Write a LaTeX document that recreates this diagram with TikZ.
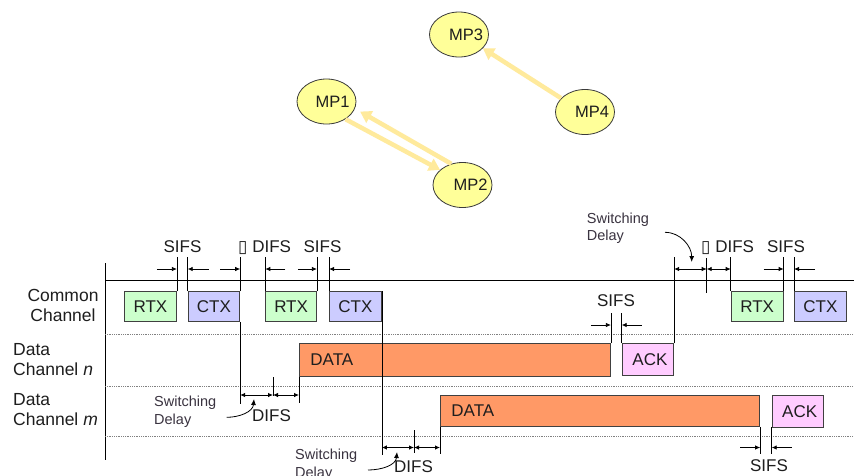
\documentclass[tikz,border=0pt]{standalone}
\usepackage{fontspec}
\setmainfont{Liberation Sans}
\newfontfamily\symfont{DejaVu Sans}
\usetikzlibrary{arrows.meta,shapes.geometric,calc}

\definecolor{mpfill}{HTML}{FFFF99}
\definecolor{mpline}{HTML}{3A3A3A}
\definecolor{linkc}{HTML}{FFEA9C}
\definecolor{rtxc}{HTML}{CCFFCC}
\definecolor{ctxc}{HTML}{CCCCFF}
\definecolor{datac}{HTML}{FF9966}
\definecolor{ackc}{HTML}{FFCCFF}
\definecolor{boxline}{HTML}{404040}
\definecolor{txt}{HTML}{1E1E1E}
\definecolor{softtxt}{HTML}{3A3340}

\begin{document}
\begin{tikzpicture}[x=1pt,y=-1pt,
  mp/.style={ellipse, draw=mpline, line width=0.8pt, fill=mpfill,
    minimum width=59pt, minimum height=45pt, inner sep=0pt},
  mptext/.style={font=\fontsize{16.5}{16.5}\selectfont, text=txt, inner sep=0pt},
  link/.style={draw=linkc, line width=4.5pt, -{Triangle[length=11pt,width=13pt]}},
  slot/.style={draw=boxline, line width=0.9pt, anchor=north west, inner sep=0pt,
    font=\fontsize{17}{17}\selectfont, text=txt},
  axis/.style={draw=black, line width=0.9pt},
  sep/.style={draw=gray, densely dotted, line width=0.8pt},
  ext/.style={draw=black, line width=0.8pt},
  gap/.style={line width=0.8pt, -{Latex[length=5pt,width=4.5pt]}},
  both/.style={line width=0.8pt, {Latex[length=5pt,width=4.5pt]}-{Latex[length=5pt,width=4.5pt]}},
  curv/.style={line width=0.8pt, -{Latex[length=6pt,width=5pt]}},
  lbl/.style={font=\fontsize{17}{17}\selectfont, text=txt, inner sep=0pt},
  chan/.style={font=\fontsize{17.5}{20}\selectfont, text=txt, inner sep=0pt},
  note/.style={font=\fontsize{14.5}{17.5}\selectfont, text=softtxt, inner sep=0pt, align=left}
]
\useasboundingbox (0,0) rectangle (854,475);
\fill[white] (0,0) rectangle (854,475);

% ---------------- mesh points ----------------
\node[mp] (mp3) at (459,34.5) {};
\node[mp] (mp1) at (326.5,101.5) {};
\node[mp] (mp2) at (462.5,185) {};
\node[mp] (mp4) at (585,112) {};
\node[mptext] at ([xshift=7pt]mp3.center) {MP3};
\node[mptext] at ([xshift=6pt]mp1.center) {MP1};
\node[mptext] at ([xshift=8pt]mp2.center) {MP2};
\node[mptext] at ([xshift=7pt]mp4.center) {MP4};

\draw[link] (mp4.150) -- (mp3.-30);
\draw[link] (mp1.-43) -- (mp2.146);
\draw[link, shorten >=6pt] (mp2.118) -- (mp1.-14);

% ---------------- channel frame ----------------
\draw[axis] (105,263) -- (105,460);
\draw[axis] (105,280) -- (854,280);
\draw[sep] (105,334) -- (854,334);
\draw[sep] (105,386) -- (854,386);
\draw[sep] (105,436) -- (854,436);

% (base anchor of a two-line node sits on its last line)
\node[chan, align=center, anchor=base] (lc) at (63,321.5) {Common\\Channel};
\node[chan, align=left, anchor=base west] (ln) at (13,375) {Data\\Channel \textit{n}};
\node[chan, align=left, anchor=base west] (lm) at (13,425) {Data\\Channel \textit{m}};

% ---------------- frames ----------------
\node[slot, fill=rtxc, minimum width=52pt, minimum height=30pt] (r1) at (124,291) {RTX};
\node[slot, fill=ctxc, minimum width=51.6pt, minimum height=30pt] (c1) at (187.7,291) {CTX};
\node[slot, fill=rtxc, minimum width=50.7pt, minimum height=30pt] (r2) at (265.3,291) {RTX};
\node[slot, fill=ctxc, minimum width=52pt, minimum height=30pt] (c2) at (329,291) {CTX};
\node[slot, fill=datac, minimum height=33pt, text width=289pt, inner xsep=11pt, align=left] (dn) at (299,343) {DATA};
\node[slot, fill=ackc, minimum width=51.6pt, minimum height=32pt] (an) at (621.7,343) {\hspace*{4pt}ACK};
\node[slot, fill=datac, minimum height=31pt, text width=297.3pt, inner xsep=11pt, align=left] (dm) at (440,395) {DATA};
\node[slot, fill=ackc, minimum width=51pt, minimum height=31.5pt] (am) at (771.7,395) {\hspace*{4pt}ACK};
\node[slot, fill=rtxc, minimum width=52pt, minimum height=30.5pt] (r3) at (730.7,290.5) {RTX};
\node[slot, fill=ctxc, minimum width=52pt, minimum height=30.5pt] (c3) at (794,290.5) {CTX};

% ---------------- boundary lines ----------------
\draw[ext] (r1.north east) -- ++(0,-34);
\draw[ext] (c1.north west) -- ++(0,-34);
\draw[ext] (c1.north east) -- ++(0,-34);
\draw[ext] (c1.south east) -- ++(0,82);
\draw[ext] (r2.north west) -- ++(0,-34);
\draw[ext] (r2.north east) -- ++(0,-34);
\draw[ext] (c2.north west) -- ++(0,-34);
\draw[ext] (c2.north east) -- (c2.south east) -- ++(0,133);
\draw[ext] (dn.south west) -- ++(0,26);
\draw[ext] (dn.north east) -- ++(0,-30);
\draw[ext] (an.north west) -- ++(0,-30);
\draw[ext] (an.north east) -- ++(0,-86);
\draw[ext] (r3.north west) -- ++(0,-33.5);
\draw[ext] (r3.north east) -- ++(0,-33.5);
\draw[ext] (c3.north west) -- ++(0,-33.5);
\draw[ext] (dm.south west) -- ++(0,27);
\draw[ext] (dm.south east) -- ++(0,27);
\draw[ext] (am.south west) -- ++(0,27);

% tick marks separating switching delay and DIFS
\coordinate (k1) at (273,377);
\coordinate (k2) at (414,430);
\coordinate (k3) at (706.7,258);
\draw[ext] (k1) -- ++(0,19);
\draw[ext] (k2) -- ++(0,23);
\draw[ext] (k3) -- ++(0,35);

% rows of the interval arrows
\coordinate (ya) at (0,269);
\coordinate (yb) at (0,325);
\coordinate (yd) at (0,395);
\coordinate (ye) at (0,447.5);

% ---------------- interval arrows ----------------
\draw[gap] ([xshift=-20pt]r1.north east |- ya) -- (r1.north east |- ya);
\draw[gap] ([xshift=21pt]c1.north west |- ya) -- (c1.north west |- ya);
\draw[gap] ([xshift=-20pt]c1.north east |- ya) -- (c1.north east |- ya);
\draw[gap] ([xshift=20pt]r2.north west |- ya) -- (r2.north west |- ya);
\draw[gap] ([xshift=-19pt]r2.north east |- ya) -- (r2.north east |- ya);
\draw[gap] ([xshift=21pt]c2.north west |- ya) -- (c2.north west |- ya);

\draw[gap] ([xshift=-20pt]dn.north east |- yb) -- (dn.north east |- yb);
\draw[gap] ([xshift=20pt]an.north west |- yb) -- (an.north west |- yb);

\draw[both] (an.north east |- ya) -- (k3 |- ya);
\draw[both] (k3 |- ya) -- (r3.north west |- ya);
\draw[gap] ([xshift=-20pt]r3.north east |- ya) -- (r3.north east |- ya);
\draw[gap] ([xshift=21pt]c3.north west |- ya) -- (c3.north west |- ya);

\draw[both] (c1.south east |- yd) -- (k1 |- yd);
\draw[both] (k1 |- yd) -- (dn.south west |- yd);
\draw[both] (c2.south east |- ye) -- (k2 |- ye);
\draw[both] (k2 |- ye) -- (dm.south west |- ye);

\draw[gap] ([xshift=-20pt]dm.south east |- ye) -- (dm.south east |- ye);
\draw[gap] ([xshift=20pt]am.south west |- ye) -- (am.south west |- ye);

% ---------------- interval names ----------------
\node[lbl, anchor=base] (s1) at (182.5,252) {SIFS};
\node[lbl, anchor=base west] (d1) at (238,252) {{\symfont\fontsize{17}{17}\selectfont ▯} DIFS};
\node[lbl, anchor=base] (s2) at (322.5,252) {SIFS};
\node[lbl, anchor=base] (s3) at (616,306) {SIFS};
\node[lbl, anchor=base west] (d3) at (701,252) {{\symfont\fontsize{17}{17}\selectfont ▯} DIFS};
\node[lbl, anchor=base] (s4) at (786,252) {SIFS};
\node[lbl, anchor=base] (s5) at (769,471) {SIFS};
\node[lbl, anchor=base west] (d2) at (252,421) {DIFS};
\node[lbl, anchor=base west] (d4) at (394,472.5) {DIFS};

% ---------------- switching delay notes ----------------
\node[note, anchor=base west] (w1) at (154,424) {Switching\\Delay};
\node[note, anchor=base west] (w2) at (295,477) {Switching\\Delay};
\node[note, anchor=base west] (w3) at (586.7,240.5) {Switching\\Delay};

\coordinate (w1e) at (226.7,417.3);
\coordinate (w2e) at (368,470);
\coordinate (w3e) at (665,232.3);
\draw[curv] (w1e) to[out=0,in=-95] (254,399);
\draw[curv] (w2e) to[out=0,in=-95] (397,452);
\draw[curv] (w3e) to[out=0,in=90] (691.7,262);
\end{tikzpicture}
\end{document}
